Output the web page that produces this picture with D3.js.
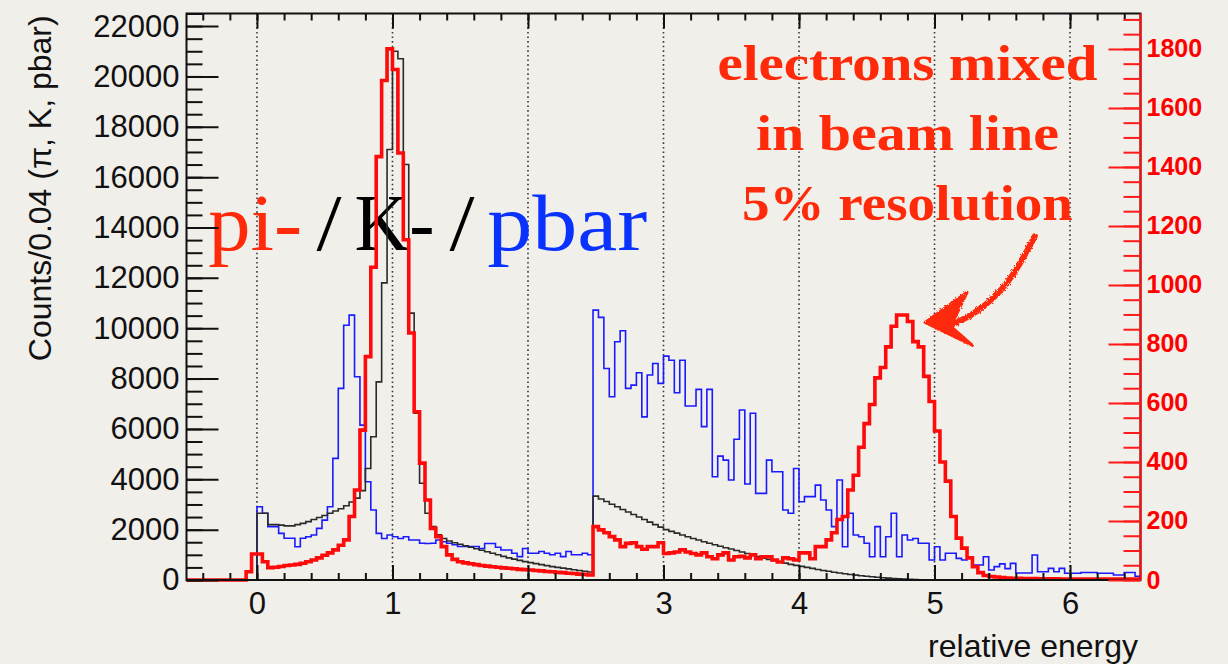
<!DOCTYPE html>
<html>
<head>
<meta charset="utf-8">
<script src="https://cdn.jsdelivr.net/npm/d3@7"></script>
<style>
body { margin: 0; background: #f1efea; }
svg { display: block; }
</style>
</head>
<body>
<svg></svg>
<script>
// histogram binning (relative energy)
var binLow = -0.52;
var binWidth = 0.04;

// pbar, left axis (counts / 0.04)
var pbar = [
	0,0,0,0,0,0,0,0,0,0,0,0,0,
	2910,2650,2120,2120,1850,1660,1660,1320,1660,1720,1790,2050,2380,2910,4830,7610,10120,10520,8070,6150,3900,2780,1850,1650,1790,
	1720,1650,1720,1590,1590,1460,1450,1460,1590,1520,1460,1400,1330,1330,1330,1330,1250,1450,1450,1300,1190,1190,1060,930,1250,
	1060,1060,1130,1060,1000,1060,930,1130,1000,1000,1060,1000,10720,10430,8400,7280,9460,9900,7610,7740,8230,6480,8140,8600,7810,
	8890,8730,7440,8730,6910,6910,7570,6090,7570,4100,4920,4760,3970,5590,6750,3810,6620,3440,3440,4760,4300,4300,2780,2650,4430,
	3110,3310,3310,3770,3180,2780,2120,3970,1320,2650,1790,1720,1460,925,2120,925,1720,2650,925,1790,1590,1650,1460,1460,794,
	1320,794,1060,1060,860,794,925,593,593,925,400,530,640,450,660,280,280,280,990,330,330,460,330,460,270,
	270,270,300,300,300,270,270,270,200,200,300,300,150
];

// K-, left axis
var kMinus = [
	0,0,0,0,0,0,0,0,0,0,0,0,0,
	2650,2650,2200,2200,2180,2150,2150,2200,2250,2320,2400,2480,2560,2650,2740,2830,2950,3100,3250,3550,4430,5690,7870,11800,17100,
	21000,20700,16500,10600,6620,3840,2650,2120,1800,1650,1550,1480,1420,1360,1300,1240,1180,1120,1060,1000,940,880,830,780,730,
	690,650,610,570,530,500,470,440,410,380,350,320,3330,3220,3120,3010,2910,2800,2700,2600,2500,2400,2300,2200,2100,
	2000,1930,1860,1790,1720,1650,1590,1520,1460,1400,1340,1280,1230,1170,1110,1050,990,930,870,820,770,720,670,620,580,
	540,500,460,420,380,350,310,280,250,220,195,170,150,130,110,90,75,60,45,35,25,18,12,8,5,
	3,2,1,0,0,0,0,0,0,0,0,0,0,0,0,0,0,0,0,0,0,0,0,0,0,
	0,0,0,0,0,0,0,0,0,0,0,0,0
];

// pi- (and electrons), right axis
var piMinus = [
	0,0,0,0,0,0,0,0,0,0,0,28,88,
	88,62,42,43,46,49,51,53,57,62,68,75,84,92,102,118,136,215,305,508,757,1060,1435,1693,1800,
	1730,1447,1153,837,570,396,271,175,147,113,85,70,62,58,55,52,49,47,45,43,41,40,38,36,35,
	34,32,31,29,28,26,25,23,22,20,19,17,181,170,160,147,136,113,124,126,113,104,113,113,126,
	90,92,95,102,95,90,85,92,79,72,85,92,68,79,80,75,85,72,79,79,68,61,75,72,68,
	92,92,72,113,113,136,160,205,215,305,355,450,530,595,685,720,790,860,898,898,876,808,790,690,605,
	505,400,335,215,142,108,75,45,25,15,12,10,8,7,6,6,5,5,5,4,4,4,4,3,3,
	3,3,3,3,3,3,3,3,3,3,3,3,3
];

var xTicks = [0, 1, 2, 3, 4, 5, 6];
var leftTicks = [0, 2000, 4000, 6000, 8000, 10000, 12000, 14000, 16000, 18000, 20000, 22000];
var rightTicks = [0, 200, 400, 600, 800, 1000, 1200, 1400, 1600, 1800];

var width = 1228, height = 664;
var frame = {left: 186.5, right: 1140.5, top: 13.5, bottom: 580};
var sans = "'Liberation Sans', Arial, Helvetica, sans-serif";
var serif = "'Liberation Serif', 'Times New Roman', serif";

var svg = d3.select("svg").attr("width", width).attr("height", height);

var x = d3.scaleLinear().domain([binLow, binLow + binWidth * pbar.length]).range([frame.left, frame.right]);
var yL = d3.scaleLinear().domain([0, 22500]).range([frame.bottom, frame.top]);
var yR = d3.scaleLinear().domain([0, 1920]).range([frame.bottom, frame.top]);

// dotted grid at integer energies
svg.append("g").selectAll("line")
	.data(xTicks)
	.enter().append("line")
	.attr("x1", d => x(d)).attr("x2", d => x(d))
	.attr("y1", frame.top).attr("y2", frame.bottom)
	.attr("stroke", "#3a3a3a")
	.attr("stroke-width", 1.6)
	.attr("stroke-dasharray", "1.6,3");

// big species label
var species = [
	{t: "pi-", x: -0.36, w: 94, c: "#ff2a0a"},
	{t: "/", x: 0.44, w: 25, c: "#000"},
	{t: "K-", x: 0.72, w: 80, c: "#000"},
	{t: "/", x: 1.42, w: 25, c: "#000"},
	{t: "pbar", x: 1.70, w: 160, c: "#0a32ff"}
];
svg.append("g").selectAll("text")
	.data(species)
	.enter().append("text")
	.attr("x", d => x(d.x))
	.attr("y", yL(13100))
	.attr("font-family", serif)
	.attr("font-size", 80)
	.attr("fill", d => d.c)
	.attr("textLength", d => d.w)
	.attr("lengthAdjust", "spacingAndGlyphs")
	.text(d => d.t);

// histograms
function steps(values){
	var pts = values.map((v, i) => [binLow + i * binWidth, v]);
	pts.push([binLow + values.length * binWidth, values[values.length - 1]]);
	return pts;
}
var lineL = d3.line().x(d => x(d[0])).y(d => yL(d[1])).curve(d3.curveStepAfter);
var lineR = d3.line().x(d => x(d[0])).y(d => yR(d[1])).curve(d3.curveStepAfter);

svg.append("path").attr("d", lineL(steps(pbar)))
	.attr("fill", "none").attr("stroke", "#1a1aff").attr("stroke-width", 1.6);
svg.append("path").attr("d", lineL(steps(kMinus)))
	.attr("fill", "none").attr("stroke", "#2a2a2a").attr("stroke-width", 1.6);
svg.append("path").attr("d", lineR(steps(piMinus)))
	.attr("fill", "none").attr("stroke", "#ff0a0a").attr("stroke-width", 3.6)
	.attr("stroke-linejoin", "miter");

// frame
svg.append("rect")
	.attr("x", frame.left).attr("y", frame.top)
	.attr("width", frame.right - frame.left).attr("height", frame.bottom - frame.top)
	.attr("fill", "none").attr("stroke", "#111").attr("stroke-width", 2);

function styleAxis(g, color){
	g.select(".domain").remove();
	g.selectAll("line").attr("stroke", color).attr("stroke-width", 2);
}

// x axis, bottom and top
var xMinor = d3.range(-0.4, 6.5, 0.2).map(d => Math.round(d * 10) / 10);
var gb = svg.append("g").attr("transform", "translate(0," + frame.bottom + ")");
gb.append("g").call(d3.axisBottom(x).tickValues(xMinor).tickSize(-7).tickFormat("")).call(styleAxis, "#111");
gb.append("g").call(d3.axisBottom(x).tickValues(xTicks).tickSize(-15).tickPadding(12).tickFormat(d3.format("d")))
	.call(styleAxis, "#111")
	.call(g => g.selectAll("text").attr("font-family", sans).attr("font-size", 31).attr("fill", "#111"));
var gt = svg.append("g").attr("transform", "translate(0," + frame.top + ")");
gt.append("g").call(d3.axisTop(x).tickValues(xMinor).tickSize(-7).tickFormat("")).call(styleAxis, "#111");
gt.append("g").call(d3.axisTop(x).tickValues(xTicks).tickSize(-15).tickFormat("")).call(styleAxis, "#111");

// left axis
var gl = svg.append("g").attr("transform", "translate(" + frame.left + ",0)");
gl.append("g").call(d3.axisLeft(yL).tickValues(d3.range(0, 22501, 500)).tickSize(-16).tickFormat("")).call(styleAxis, "#111");
gl.append("g").call(d3.axisLeft(yL).tickValues(leftTicks).tickSize(-32).tickPadding(7).tickFormat(d3.format("d")))
	.call(styleAxis, "#111")
	.call(g => g.selectAll("text").attr("font-family", sans).attr("font-size", 31).attr("fill", "#111"));

// right axis (red)
var gr = svg.append("g").attr("transform", "translate(" + frame.right + ",0)");
gr.append("line").attr("y1", frame.top).attr("y2", frame.bottom).attr("stroke", "#ff0a0a").attr("stroke-width", 2);
gr.append("g").call(d3.axisRight(yR).tickValues(d3.range(0, 1901, 50)).tickSize(-17).tickFormat("")).call(styleAxis, "#ff1a1a");
gr.append("g").call(d3.axisRight(yR).tickValues(rightTicks).tickSize(-32).tickPadding(6).tickFormat(d3.format("d")))
	.call(styleAxis, "#ff1a1a")
	.call(g => g.selectAll("text").attr("font-family", sans).attr("font-size", 25)
		.attr("font-weight", "bold").attr("fill", "#ff0000"));

// axis titles
svg.append("text")
	.attr("transform", "translate(51," + ((frame.top + 363) / 2) + ") rotate(-90)")
	.attr("text-anchor", "middle")
	.attr("font-family", sans).attr("font-size", 32).attr("fill", "#111")
	.text("Counts/0.04 (\u03c0, K, pbar)");
svg.append("text")
	.attr("x", 1138).attr("y", 657)
	.attr("text-anchor", "end")
	.attr("font-family", sans).attr("font-size", 32).attr("fill", "#111")
	.text("relative energy");

// electron annotation
var noteLines = [
	{t: "electrons mixed", y: 19860, w: 380},
	{t: "in beam line", y: 17080, w: 303},
	{t: "5% resolution", y: 14300, w: 331}
];
svg.append("g").selectAll("text")
	.data(noteLines)
	.enter().append("text")
	.attr("x", x(4.8))
	.attr("y", d => yL(d.y))
	.attr("text-anchor", "middle")
	.attr("font-family", serif).attr("font-size", 50).attr("font-weight", "bold")
	.attr("fill", "#ff2a0a")
	.attr("textLength", d => d.w)
	.attr("lengthAdjust", "spacingAndGlyphs")
	.text(d => d.t);

// hand drawn arrow (right-axis units)
var defs = svg.append("defs");
var rough = defs.append("filter").attr("id", "rough");
rough.append("feTurbulence").attr("type", "fractalNoise").attr("baseFrequency", 0.6).attr("numOctaves", 2).attr("result", "n");
rough.append("feDisplacementMap").attr("in", "SourceGraphic").attr("in2", "n").attr("scale", 3.5);

var shaft = [[5.74, 1165], [5.55, 1000], [5.30, 900], [5.10, 860]];
var head = [[5.24, 975], [4.93, 873], [5.28, 795], [5.12, 860]];
var ga = svg.append("g").attr("filter", "url(#rough)");
ga.append("path")
	.attr("d", d3.line().x(d => x(d[0])).y(d => yR(d[1])).curve(d3.curveBasis)(shaft))
	.attr("fill", "none").attr("stroke", "#ff2a0a").attr("stroke-width", 6).attr("stroke-linecap", "round");
ga.append("path")
	.attr("d", d3.line().x(d => x(d[0])).y(d => yR(d[1]))(head) + "Z")
	.attr("fill", "#ff2a0a").attr("stroke", "#ff2a0a").attr("stroke-width", 3).attr("stroke-linejoin", "round");
</script>
</body>
</html>
